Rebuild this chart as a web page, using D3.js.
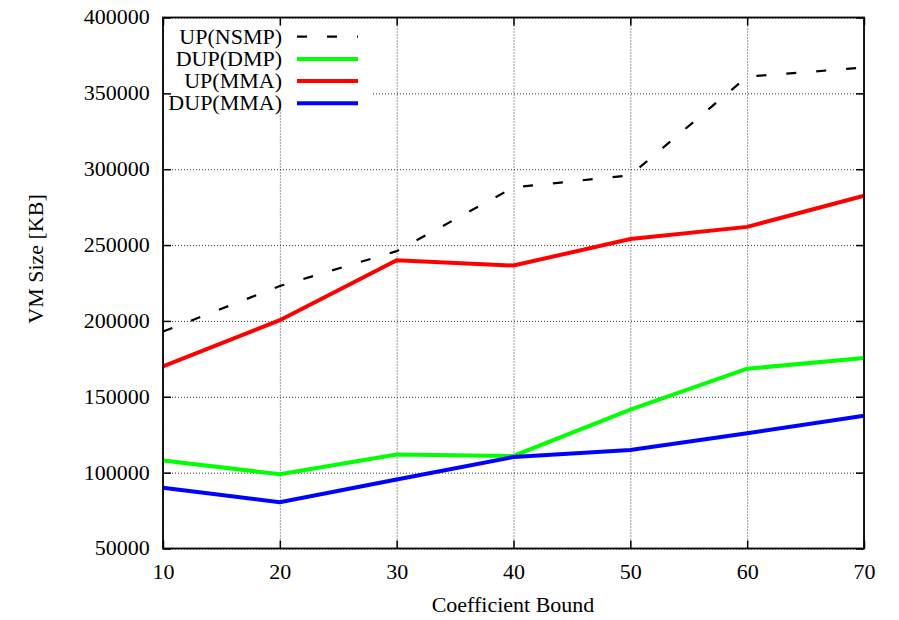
<!DOCTYPE html>
<html>
<head>
<meta charset="utf-8">
<script src="https://cdn.jsdelivr.net/npm/d3@7"></script>
<style>
  body { margin: 0; background: #fff; }
  svg text { font-family: "Liberation Serif", "DejaVu Serif", serif; fill: #000; }
</style>
</head>
<body>
<svg id="chart" width="899" height="620"></svg>
<script>
// data
const bounds = [10, 20, 30, 40, 50, 60, 70];
const upNsmp = [193000, 223000, 246000, 288000, 296000, 361000, 367000];
const dupDmp = [108000, 99000, 112000, 111000, 141500, 168500, 175500];
const upMma = [170000, 200500, 240000, 236500, 254000, 262000, 282500];
const dupMma = [90000, 80500, 95500, 110300, 115000, 126000, 137500];
const seriesNames = ["UP(NSMP)", "DUP(DMP)", "UP(MMA)", "DUP(MMA)"];
const seriesColors = ["#000000", "#00ff00", "#ff0000", "#0000ff"];
const xTicks = [10, 20, 30, 40, 50, 60, 70];
const yTicks = [50000, 100000, 150000, 200000, 250000, 300000, 350000, 400000];

const svg = d3.select("#chart");
const margin = { left: 163, right: 35, top: 17.5, bottom: 71.5 };
const width = 899 - margin.left - margin.right;
const height = 620 - margin.top - margin.bottom;
const stretch = "scale(1.1,1)"; // the serif in the original is a bit wider

const x = d3.scaleLinear().domain([10, 70]).range([0, width]);
const y = d3.scaleLinear().domain([50000, 400000]).range([height, 0]);

const g = svg.append("g").attr("transform", `translate(${margin.left},${margin.top})`);

// dotted grid
const gridX = g.append("g")
    .attr("transform", `translate(0,${height})`)
    .call(d3.axisBottom(x).tickValues(xTicks).tickSize(-height).tickFormat(""));
const gridY = g.append("g")
    .call(d3.axisLeft(y).tickValues(yTicks).tickSize(-width).tickFormat(""));
[gridX, gridY].forEach(gr => {
    gr.select(".domain").remove();
    gr.selectAll("line")
        .attr("stroke", "#333")
        .attr("stroke-width", 1)
        .attr("stroke-dasharray", "1,2");
});

// key area hides the grid behind it
g.append("rect")
    .attr("x", 1).attr("y", 8)
    .attr("width", 207).attr("height", 83)
    .attr("fill", "#fff");

// series lines
const allSeries = [upNsmp, dupDmp, upMma, dupMma];
const line = d3.line()
    .x((d, i) => x(bounds[i]))
    .y(d => y(d));

allSeries.forEach((s, k) => {
    g.append("path")
        .datum(s)
        .attr("d", line)
        .attr("fill", "none")
        .attr("stroke", seriesColors[k])
        .attr("stroke-width", k === 0 ? 2.2 : 4)
        .attr("stroke-dasharray", k === 0 ? "10,20" : null);
});

// axes with inward ticks
const xAxis = g.append("g")
    .attr("transform", `translate(0,${height})`)
    .call(d3.axisBottom(x).tickValues(xTicks).tickSizeInner(-8).tickSizeOuter(0).tickPadding(16));
const yAxis = g.append("g")
    .call(d3.axisLeft(y).tickValues(yTicks).tickSizeInner(-8).tickSizeOuter(0).tickPadding(12).tickFormat(d3.format("d")));
const xTop = g.append("g")
    .call(d3.axisTop(x).tickValues(xTicks).tickSizeInner(-8).tickSizeOuter(0).tickFormat(""));
const yRight = g.append("g")
    .attr("transform", `translate(${width},0)`)
    .call(d3.axisRight(y).tickValues(yTicks).tickSizeInner(-8).tickSizeOuter(0).tickFormat(""));

[xAxis, yAxis, xTop, yRight].forEach(ax => {
    ax.select(".domain").remove();
    ax.selectAll("line").attr("stroke", "#000").attr("stroke-width", 1.5);
    ax.selectAll("text")
        .attr("transform", stretch)
        .style("font-family", '"Liberation Serif", serif')
        .style("font-size", "20px");
});

// frame
g.append("rect")
    .attr("width", width).attr("height", height)
    .attr("fill", "none")
    .attr("stroke", "#000")
    .attr("stroke-width", 1.8);

// axis titles
svg.append("text")
    .attr("transform", `translate(43,259) rotate(-90) ${stretch}`)
    .attr("text-anchor", "middle")
    .style("font-size", "20px")
    .text("VM Size [KB]");

svg.append("text")
    .attr("transform", `translate(513,612) ${stretch}`)
    .attr("text-anchor", "middle")
    .style("font-size", "20px")
    .text("Coefficient Bound");

// key
const keyY = d3.scalePoint().domain(seriesNames).range([36.7, 103.3]);
const key = svg.append("g");
seriesNames.forEach((name, k) => {
    const ky = keyY(name);
    key.append("text")
        .attr("transform", `translate(282,${ky}) ${stretch}`)
        .attr("dy", "0.35em")
        .attr("text-anchor", "end")
        .style("font-size", "20px")
        .text(name);
    key.append("line")
        .attr("x1", 297).attr("x2", 358)
        .attr("y1", ky).attr("y2", ky)
        .attr("stroke", seriesColors[k])
        .attr("stroke-width", k === 0 ? 2.2 : 4)
        .attr("stroke-dasharray", k === 0 ? "10,20" : null);
});
</script>
</body>
</html>
